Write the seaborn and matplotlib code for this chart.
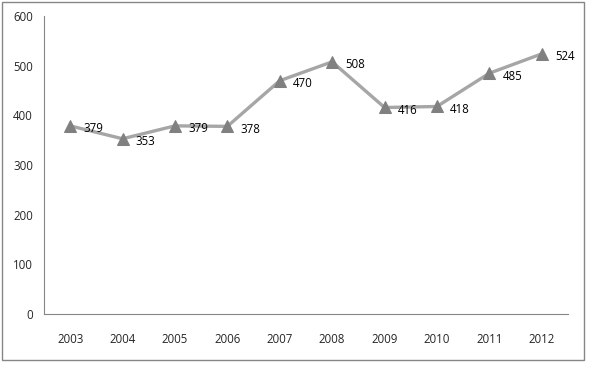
import numpy as np
import pandas as pd
import seaborn as sns
import matplotlib.pyplot as plt
from matplotlib.patches import Rectangle

years = ["2003", "2004", "2005", "2006", "2007", "2008", "2009", "2010", "2011", "2012"]
values = [379, 353, 379, 378, 470, 508, 416, 418, 485, 524]

df = pd.DataFrame({"pos": np.arange(len(years)), "value": values})

sns.set_style("white")
plt.rcParams['font.family'] = ['Open Sans', 'DejaVu Sans']

fig = plt.figure(figsize=(5.92, 3.67), dpi=100)
ax = fig.add_axes([0.0743, 0.1444, 0.885, 0.8116])

sns.lineplot(data=df, x="pos", y="value", ax=ax, color="#A6A6A6", linewidth=2.4,
             marker="^", markersize=8, markerfacecolor="#808080", markeredgecolor="#808080")

for x, v in zip(df["pos"], values):
    ax.annotate(str(v), (x, v), xytext=(9.5, -2), textcoords="offset points",
                ha="left", va="center", fontsize=8.3, color="black")

ax.set_xlim(-0.5, len(years) - 0.5)
ax.set_ylim(0, 600)
ax.set_yticks(range(0, 601, 100))
ax.set_xticks(df["pos"])
ax.set_xticklabels(years)
ax.set_xticks(np.arange(-0.5, len(years), 1), minor=True)
ax.tick_params(axis="x", which="major", length=0, pad=14, labelsize=8.3)
ax.tick_params(axis="x", which="minor", length=4, color="#868686", width=0.8)
ax.tick_params(axis="y", length=4, color="#868686", width=0.8, labelsize=8.3, pad=4)
ax.set_xlabel("")
ax.set_ylabel("")

sns.despine(ax=ax)
for side in ["left", "bottom"]:
    ax.spines[side].set_color("#868686")
    ax.spines[side].set_linewidth(0.8)

fig.patches.append(Rectangle((0.0034, 0.019), 0.983, 0.976, transform=fig.transFigure,
                             fill=False, edgecolor="#868686", linewidth=1))

fig.savefig("out.png", dpi=100)
